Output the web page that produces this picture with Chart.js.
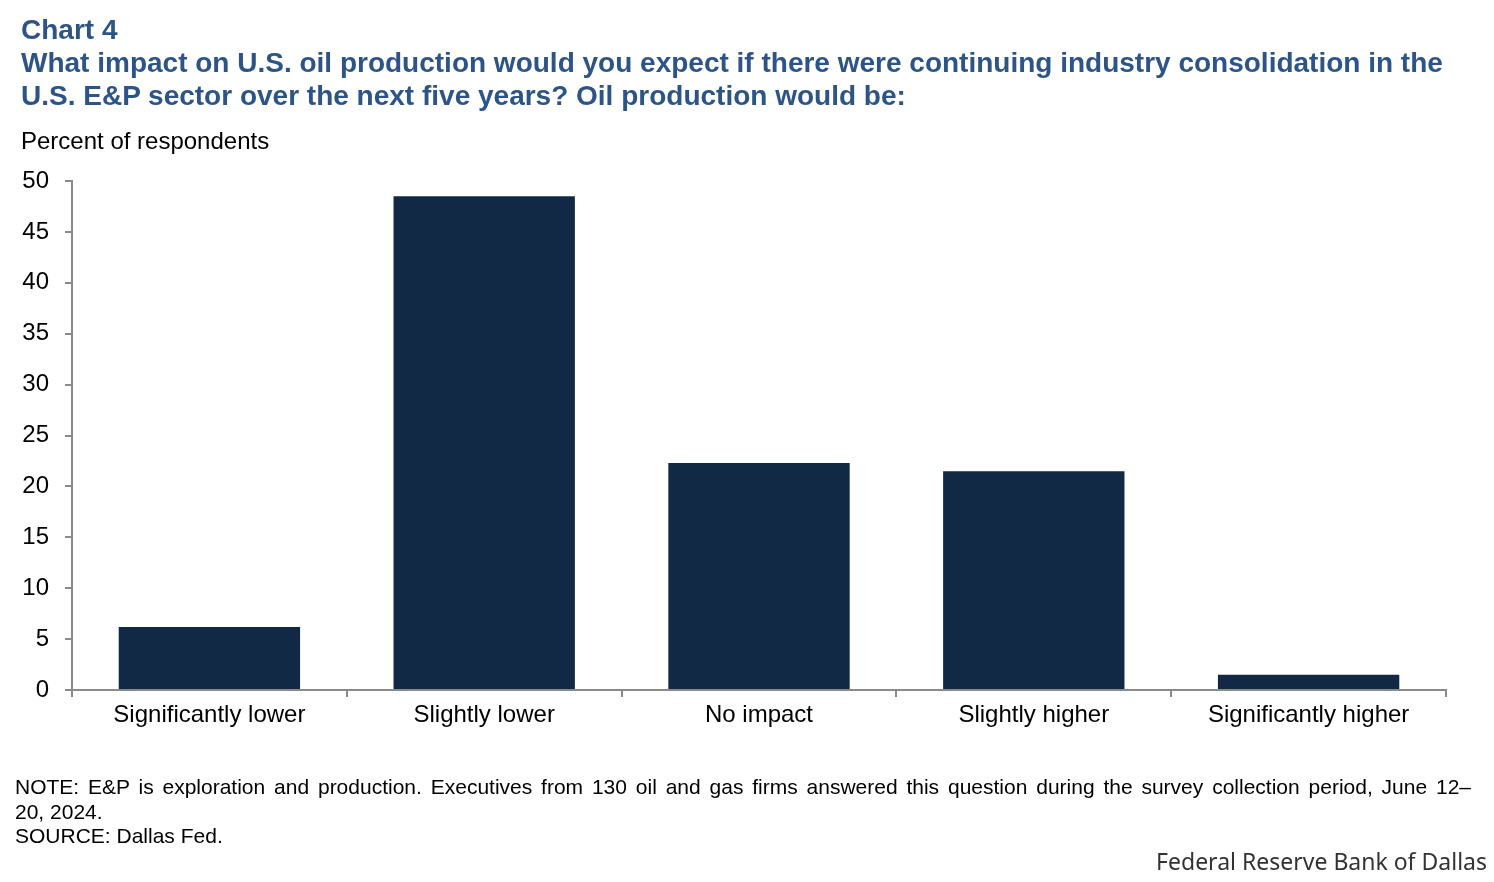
<!DOCTYPE html>
<html>
<head>
<meta charset="utf-8">
<script src="https://cdn.jsdelivr.net/npm/chart.js"></script>
<style>
  body { margin: 0; background: #fff; font-family: "Liberation Sans", Arial, sans-serif; }
  #wrap { position: relative; width: 1494px; height: 882px; overflow: hidden; }
  #chart { position: absolute; left: 0; top: 0; }
  .title { position: absolute; left: 21px; top: 13px; color: #2d5487; font-weight: bold; font-size: 28px; line-height: 33px; white-space: nowrap; }
  .unit { position: absolute; left: 21px; top: 127px; font-size: 24px; color: #000; }
  .note { position: absolute; left: 15px; top: 775px; width: 1456px; font-size: 21px; line-height: 24.5px; color: #000; text-align: justify; }
  .brand { position: absolute; right: 7px; top: 845px; font-family: "Noto Sans", sans-serif; font-size: 23px; color: #333; }
</style>
</head>
<body>
<div id="wrap">
  <canvas id="chart" width="1494" height="882"></canvas>
  <div class="title">Chart 4<br>What impact on U.S. oil production would you expect if there were continuing industry consolidation in the<br>U.S. E&amp;P sector over the next five years? Oil production would be:</div>
  <div class="unit">Percent of respondents</div>
  <div class="note">NOTE: E&amp;P is exploration and production. Executives from 130 oil and gas firms answered this question during the survey collection period, June 12–&#8203;20,&nbsp;2024.<br>SOURCE: Dallas Fed.</div>
  <div class="brand">Federal Reserve Bank of Dallas</div>
</div>
<script>
// respostas da pesquisa, em % dos 130 entrevistados
var categorias = ['Significantly lower', 'Slightly lower', 'No impact', 'Slightly higher', 'Significantly higher'];
var valores = [6.2, 48.5, 22.3, 21.5, 1.5];
var ticksY = [0, 5, 10, 15, 20, 25, 30, 35, 40, 45, 50];

var ctx = document.getElementById('chart').getContext('2d');
var myChart = new Chart(ctx, {
    type: 'bar',
    data: {
        labels: categorias,
        datasets: [{
            data: valores,
            backgroundColor: '#122945',
            borderWidth: 0,
            categoryPercentage: 1,
            barPercentage: 0.66
        }]
    },
    options: {
        responsive: false,
        animation: false,
        layout: { padding: { left: 0, right: 48, top: 181, bottom: 0 } },
        plugins: { legend: { display: false }, tooltip: { enabled: false } },
        scales: {
            x: {
                offset: true,
                grid: { offset: true, drawOnChartArea: false, drawTicks: true, tickLength: 7, color: '#8a8a8a', lineWidth: 2 },
                border: { color: '#8a8a8a', width: 2 },
                ticks: { color: '#000', padding: 4, font: { family: 'Liberation Sans', size: 24 }, maxRotation: 0 },
                afterFit: function (s) { s.height = 882 - 690; }
            },
            y: {
                min: 0, max: 50,
                afterBuildTicks: function (s) { s.ticks = ticksY.map(function (v) { return { value: v }; }); },
                grid: { drawOnChartArea: false, drawTicks: true, tickLength: 7, color: '#8a8a8a', lineWidth: 2 },
                border: { color: '#8a8a8a', width: 2 },
                ticks: { color: '#000', padding: 16, font: { family: 'Liberation Sans', size: 24 } },
                afterFit: function (s) { s.width = 72; }
            }
        }
    }
});
</script>
</body>
</html>
